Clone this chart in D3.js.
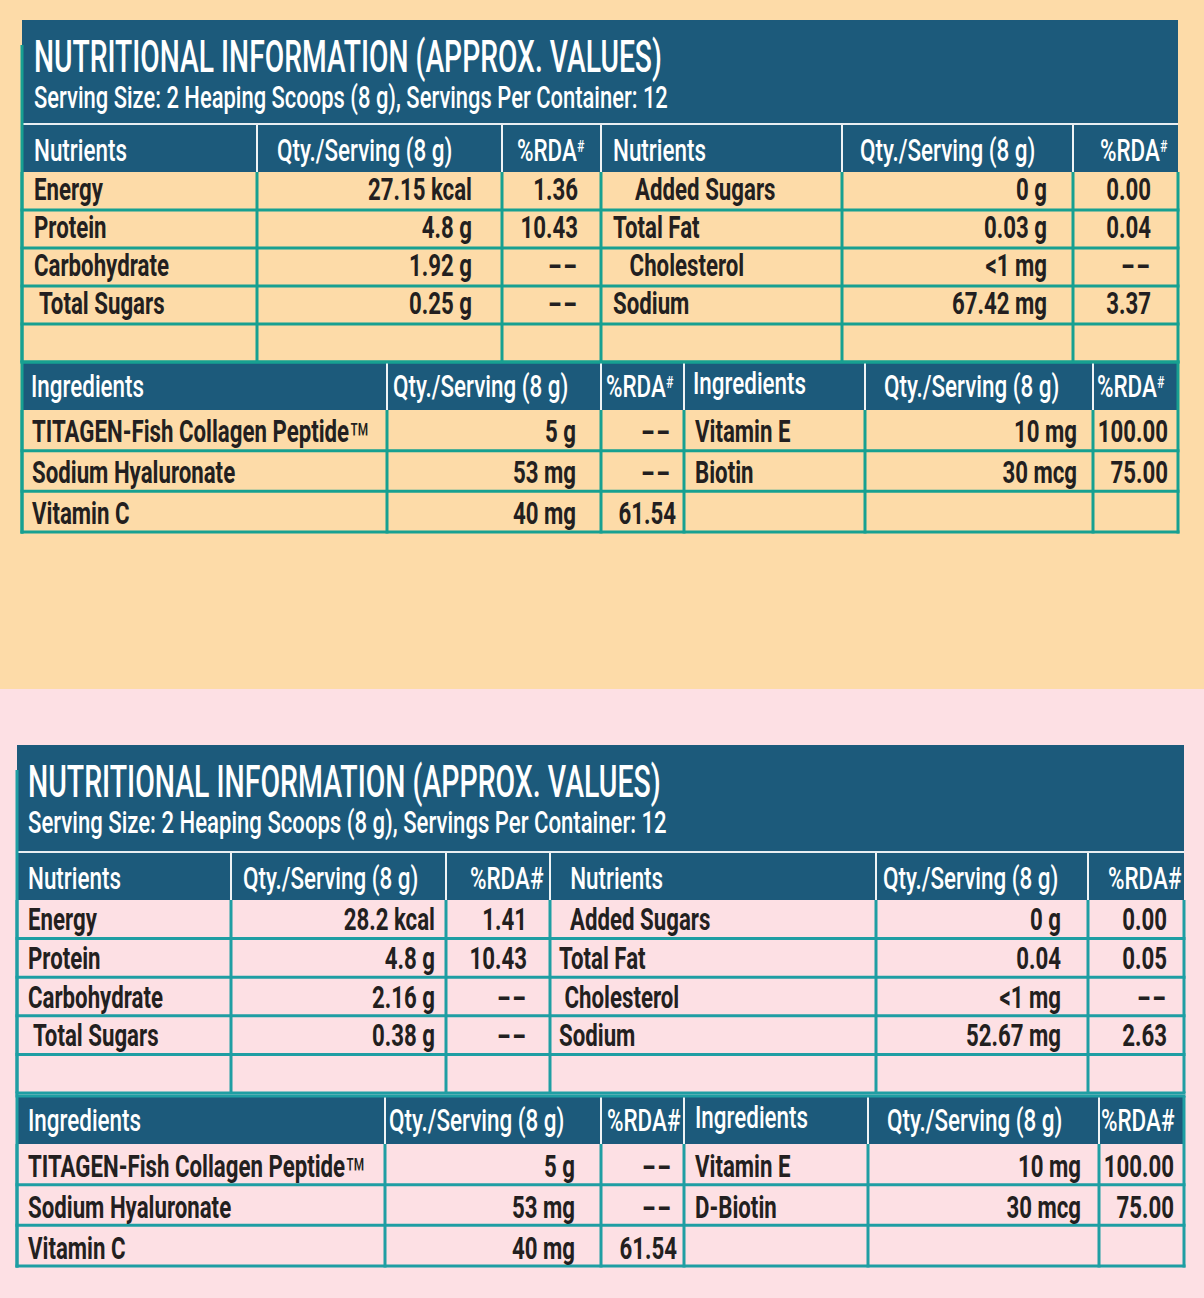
<!DOCTYPE html>
<html>
<head>
<meta charset="utf-8">
<script src="https://cdn.jsdelivr.net/npm/d3@7"></script>
<style>
  body { margin: 0; }
  svg text { white-space: pre; }
</style>
</head>
<body>
<svg id="chart"></svg>
<script>
"use strict";

// ---- data: peach label (top) ----
const titleText = "NUTRITIONAL INFORMATION (APPROX. VALUES)";
const subtitleText = "Serving Size: 2 Heaping Scoops (8 g), Servings Per Container: 12";
const nutrientHeaders = ["Nutrients", "Qty./Serving (8 g)", "%RDA#", "Nutrients", "Qty./Serving (8 g)", "%RDA#"];
const ingredientHeaders = ["Ingredients", "Qty./Serving (8 g)", "%RDA#", "Ingredients", "Qty./Serving (8 g)", "%RDA#"];

const peachNutrientsA = ["Energy", "Protein", "Carbohydrate", " Total Sugars", ""];
const peachQtyA = ["27.15 kcal", "4.8 g", "1.92 g", "0.25 g", ""];
const peachRdaA = ["1.36", "10.43", "--", "--", ""];
const peachNutrientsB = ["    Added Sugars", "Total Fat", "   Cholesterol", "Sodium", ""];
const peachQtyB = ["0 g", "0.03 g", "<1 mg", "67.42 mg", ""];
const peachRdaB = ["0.00", "0.04", "--", "3.37", ""];
const peachIngredientsA = ["TITAGEN-Fish Collagen Peptide™", "Sodium Hyaluronate", "Vitamin C"];
const peachIngQtyA = ["5 g", "53 mg", "40 mg"];
const peachIngRdaA = ["--", "--", "61.54"];
const peachIngredientsB = ["Vitamin E", "Biotin", ""];
const peachIngQtyB = ["10 mg", "30 mcg", ""];
const peachIngRdaB = ["100.00", "75.00", ""];

// ---- data: pink label (bottom) ----
const pinkNutrientsA = ["Energy", "Protein", "Carbohydrate", " Total Sugars", ""];
const pinkQtyA = ["28.2 kcal", "4.8 g", "2.16 g", "0.38 g", ""];
const pinkRdaA = ["1.41", "10.43", "--", "--", ""];
const pinkNutrientsB = ["  Added Sugars", "Total Fat", " Cholesterol", "Sodium", ""];
const pinkQtyB = ["0 g", "0.04", "<1 mg", "52.67 mg", ""];
const pinkRdaB = ["0.00", "0.05", "--", "2.63", ""];
const pinkIngredientsA = ["TITAGEN-Fish Collagen Peptide™", "Sodium Hyaluronate", "Vitamin C"];
const pinkIngQtyA = ["5 g", "53 mg", "40 mg"];
const pinkIngRdaA = ["--", "--", "61.54"];
const pinkIngredientsB = ["Vitamin E", "D-Biotin", ""];
const pinkIngQtyB = ["10 mg", "30 mcg", ""];
const pinkIngRdaB = ["100.00", "75.00", ""];

const W = 1204, H = 1298;
const FONT = "Roboto, 'Noto Sans', sans-serif";
const NAVY = "#1c5a7b", INK = "#231f20";

const svg = d3.select("#chart").attr("width", W).attr("height", H);

// measure natural width of a string in a given style
function measure(str, size, weight) {
  const t = svg.append("text").style("font-family", FONT)
      .style("font-size", size + "px").style("font-weight", weight).text(str);
  const w = t.node().getComputedTextLength();
  t.remove();
  return w;
}

// condensed look: scale horizontally around the anchor point
const cellSize = 31, cellWeight = 700, headWeight = 500;
const cellSx = 135 / measure("Carbohydrate", cellSize, cellWeight);
const headSx = 93 / measure("Nutrients", cellSize, headWeight);

function drawText(g, x, y, str, o) {
  // the long DIN-style dashes are wider than condensed hyphens
  const sx = str === "--" ? 1.25 : o.sx;
  const t = g.append("text")
      .attr("transform", `translate(${x},${y}) scale(${sx},1)`)
      .attr("text-anchor", o.anchor || "start")
      .style("font-family", FONT)
      .style("font-size", o.size + "px")
      .style("font-weight", o.weight)
      .style("fill", o.fill);
  if (o.sup && str.endsWith("#")) {
    t.text(str.slice(0, -1));
    t.append("tspan").attr("dy", -9).style("font-size", "17px").text("#");
  } else if (str.endsWith("™")) {
    t.text(str.slice(0, -1));
    t.append("tspan").attr("dy", 15).style("font-size", "48px")
        .style("font-weight", 400).text("™");
  } else {
    t.text(str);
  }
  return t;
}

function drawLabel(L, d) {
  const g = svg.append("g");

  g.append("rect").attr("x", 0).attr("y", L.bg[0]).attr("width", W)
      .attr("height", L.bg[1] - L.bg[0]).style("fill", L.bgColor);

  const left = L.nutrCols[0], right = L.nutrCols[L.nutrCols.length - 1];
  const yN = d3.scaleLinear().domain([0, 5]).range(L.nutrRows);
  const yI = d3.scaleLinear().domain([0, 3]).range(L.ingRows);

  // navy title block + nutrient header row
  g.append("rect").attr("x", left).attr("y", L.titleTop)
      .attr("width", right - left).attr("height", L.nutrHead[1] - L.titleTop)
      .style("fill", NAVY);
  g.append("line").attr("x1", left).attr("x2", right)
      .attr("y1", L.nutrHead[0] - 1).attr("y2", L.nutrHead[0] - 1)
      .style("stroke", "#e8eef2").style("stroke-width", 2);

  // ingredient header row
  g.append("rect").attr("x", left).attr("y", L.ingHead[0])
      .attr("width", right - left).attr("height", L.ingHead[1] - L.ingHead[0])
      .style("fill", NAVY);

  const grid = { stroke: L.grid, width: 3 };
  function hline(y, x1, x2) {
    g.append("line").attr("x1", x1).attr("x2", x2).attr("y1", y).attr("y2", y)
        .style("stroke", grid.stroke).style("stroke-width", grid.width);
  }
  function vline(x, y1, y2, color, w) {
    g.append("line").attr("x1", x).attr("x2", x).attr("y1", y1).attr("y2", y2)
        .style("stroke", color || grid.stroke).style("stroke-width", w || grid.width);
  }

  // nutrient grid
  d3.range(1, 6).forEach(i => hline(yN(i), left - 1.5, right + 1.5));
  L.nutrCols.forEach(x => vline(x, L.nutrRows[0], L.nutrRows[1]));
  // ingredient grid
  hline(L.ingHead[0], left - 1.5, right + 1.5);
  d3.range(1, 4).forEach(i => hline(yI(i), left - 1.5, right + 1.5));
  L.ingCols.forEach(x => vline(x, L.ingRows[0], L.ingRows[1] + 1.5));
  vline(left, L.titleTop + 25, L.ingRows[1] + 1.5);
  vline(right, L.ingHead[0], L.ingHead[1]);

  // white separators inside header rows
  L.nutrCols.slice(1, -1).forEach(x => vline(x, L.nutrHead[0], L.nutrHead[1], "#eef3f5", 2));
  L.ingCols.slice(1, -1).forEach(x => vline(x, L.ingHead[0] + 1.5, L.ingHead[1], "#eef3f5", 2));

  // title
  const tSx = L.titleW / measure(titleText, 45, 500);
  drawText(g, L.titleX, L.titleTop + 52, titleText, { sx: tSx, size: 45, weight: 500, fill: "#fff" });
  const sSx = L.subW / measure(subtitleText, 32, 500);
  drawText(g, L.titleX, L.titleTop + 88, subtitleText, { sx: sSx, size: 32, weight: 500, fill: "#fff" });

  const headStyle = { sx: headSx, size: cellSize, weight: headWeight, fill: "#fff", sup: L.supHash };
  const headN = d.nutrientHeaders.map((h, j) => (j === 3 ? L.nutrHead3Pad : "") + h);
  headN.forEach((h, j) =>
    drawText(g, L.nutrHeadX[j], (L.nutrHead[0] + L.nutrHead[1]) / 2 + 12, h, headStyle));
  d.ingredientHeaders.forEach((h, j) =>
    drawText(g, L.ingHeadX[j], (L.ingHead[0] + L.ingHead[1]) / 2 + 11 - (j === 3 ? 3 : 0), h, headStyle));

  const cell = { sx: cellSx, size: cellSize, weight: cellWeight, fill: INK };
  const anchors = ["start", "end", "end", "start", "end", "end"];
  d.nutrCols.forEach((col, j) => col.forEach((v, i) =>
    drawText(g, L.nutrTextX[j], (yN(i) + yN(i + 1)) / 2 + L.rowDy, v, Object.assign({ anchor: anchors[j] }, cell))));
  d.ingCols.forEach((col, j) => col.forEach((v, i) =>
    drawText(g, L.ingTextX[j] + (j === 2 && v !== "--" ? 5 : 0), (yI(i) + yI(i + 1)) / 2 + L.ingDy, v,
        Object.assign({ anchor: anchors[j] }, cell))));
}

drawLabel({
  bg: [0, 689], bgColor: "#fddba8", grid: "#17a091", supHash: true,
  titleTop: 20, titleX: 34, titleW: 628, subW: 634,
  nutrCols: [22, 257, 502, 601, 842, 1073, 1178],
  nutrHead: [125, 172], nutrRows: [172, 362], rowDy: 9,
  ingCols: [22, 387, 601, 684, 865, 1093, 1178],
  ingHead: [362, 410], ingRows: [410, 532], ingDy: 12,
  nutrHeadX: [34, 277, 517, 613, 860, 1100], nutrHead3Pad: "",
  nutrTextX: [34, 472, 578, 613, 1047, 1151],
  ingHeadX: [31, 393, 606, 693, 884, 1097],
  ingTextX: [32, 576, 671, 695, 1077, 1168]
}, {
  nutrientHeaders, ingredientHeaders,
  nutrCols: [peachNutrientsA, peachQtyA, peachRdaA, peachNutrientsB, peachQtyB, peachRdaB],
  ingCols: [peachIngredientsA, peachIngQtyA, peachIngRdaA, peachIngredientsB, peachIngQtyB, peachIngRdaB]
});

drawLabel({
  bg: [689, H], bgColor: "#fde0e4", grid: "#1f9ea3", supHash: false,
  titleTop: 745, titleX: 28, titleW: 633, subW: 639,
  nutrCols: [17, 231, 446, 550, 876, 1088, 1184],
  nutrHead: [853, 900], nutrRows: [900, 1093], rowDy: 11,
  ingCols: [17, 385, 601, 684, 868, 1099, 1184],
  ingHead: [1096, 1144], ingRows: [1144, 1266], ingDy: 13,
  nutrHeadX: [28, 243, 470, 559, 883, 1108], nutrHead3Pad: "  ",
  nutrTextX: [28, 435, 527, 559, 1061, 1167],
  ingHeadX: [28, 389, 607, 695, 887, 1101],
  ingTextX: [28, 575, 672, 695, 1081, 1174]
}, {
  nutrientHeaders, ingredientHeaders,
  nutrCols: [pinkNutrientsA, pinkQtyA, pinkRdaA, pinkNutrientsB, pinkQtyB, pinkRdaB],
  ingCols: [pinkIngredientsA, pinkIngQtyA, pinkIngRdaA, pinkIngredientsB, pinkIngQtyB, pinkIngRdaB]
});
</script>
</body>
</html>
